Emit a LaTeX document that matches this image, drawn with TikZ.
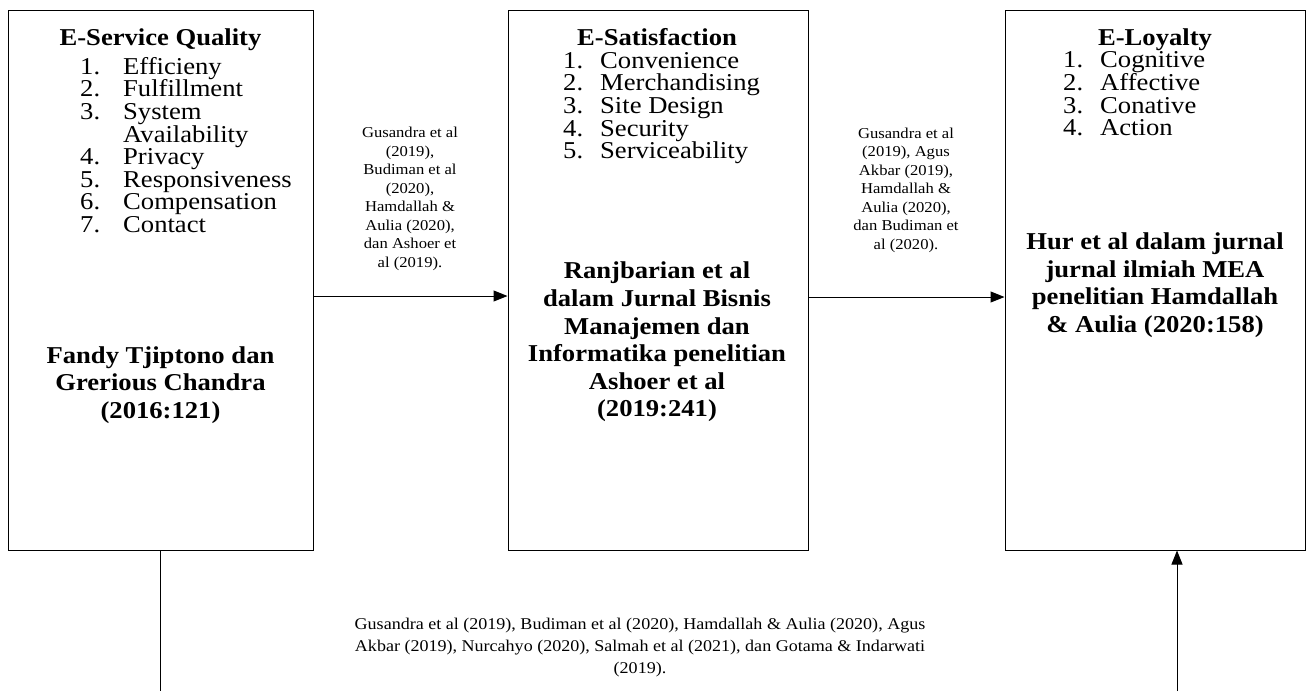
\documentclass[tikz,border=0pt]{standalone}
\usepackage{fontspec}
\setmainfont{Liberation Serif}[FakeStretch=1.1]
\usepackage{tikz}
\usetikzlibrary{arrows.meta,positioning}
\newcommand{\tightlines}{\lineskiplimit=-50pt\relax}

\begin{document}
\begin{tikzpicture}[
    x=1pt, y=-1pt,
    box/.style={draw, line width=1pt, minimum width=300pt, minimum height=540pt, inner sep=0pt},
    head/.style={font=\fontsize{24.2}{26}\selectfont\bfseries, anchor=base, inner sep=0pt},
    items/.style={font=\fontsize{24.2}{22.6}\selectfont\tightlines, align=left, anchor=west, inner sep=0pt},
    src/.style={font=\fontsize{24.2}{27.6}\selectfont\bfseries\tightlines, align=center, inner sep=0pt},
    cite/.style={font=\fontsize{15.1}{18.5}\selectfont, align=center, inner sep=0pt},
    arr/.style={-{Triangle[length=14pt,width=11pt]}, line width=1pt}
]
\useasboundingbox (0,0) rectangle (1313,691);

% the three variables
\node[box, minimum width=305pt] (esq) at (160.5,280) {};
\node[box, right=194pt of esq] (esat) {};
\node[box, right=196pt of esat] (eloy) {};

% E-Service Quality
\node[head] (esqhead) at (160.5,45) {E-Service Quality};
\node[items] (esqlist) at (80,145) {%
\makebox[43pt][l]{1.}Efficieny\\
\makebox[43pt][l]{2.}Fulfillment\\
\makebox[43pt][l]{3.}System\\
\makebox[43pt][l]{}Availability\\
\makebox[43pt][l]{4.}Privacy\\
\makebox[43pt][l]{5.}Responsiveness\\
\makebox[43pt][l]{6.}Compensation\\
\makebox[43pt][l]{7.}Contact};
\node[src] (esqsrc) at (160.5,385) {Fandy Tjiptono dan\\Grerious Chandra\\(2016:121)};

% E-Satisfaction
\node[head] (esathead) at (657,45) {E-Satisfaction};
\node[items] (esatlist) at (563,108) {%
\makebox[37pt][l]{1.}Convenience\\
\makebox[37pt][l]{2.}Merchandising\\
\makebox[37pt][l]{3.}Site Design\\
\makebox[37pt][l]{4.}Security\\
\makebox[37pt][l]{5.}Serviceability};
\node[src] (esatsrc) at (657,342) {Ranjbarian et al\\dalam Jurnal Bisnis\\Manajemen dan\\Informatika penelitian\\Ashoer et al\\(2019:241)};

% E-Loyalty
\node[head] (eloyhead) at (1155,45) {E-Loyalty};
\node[items] (eloylist) at (1063,94) {%
\makebox[37pt][l]{1.}Cognitive\\
\makebox[37pt][l]{2.}Affective\\
\makebox[37pt][l]{3.}Conative\\
\makebox[37pt][l]{4.}Action};
\node[src] (eloysrc) at (1155,285) {Hur et al dalam jurnal\\jurnal ilmiah MEA\\penelitian Hamdallah\\\& Aulia (2020:158)};

% references on the links
\node[cite] (cite1) at (410,199) {Gusandra et al\\(2019),\\Budiman et al\\(2020),\\Hamdallah \&\\Aulia (2020),\\dan Ashoer et\\al (2019).};
\node[cite] (cite2) at (906,190) {Gusandra et al\\(2019), Agus\\Akbar (2019),\\Hamdallah \&\\Aulia (2020),\\dan Budiman et\\al (2020).};
\node[cite, font=\fontsize{16.4}{22}\selectfont] (cite3) at (640,648) {Gusandra et al (2019), Budiman et al (2020), Hamdallah \& Aulia (2020), Agus\\Akbar (2019), Nurcahyo (2020), Salmah et al (2021), dan Gotama \& Indarwati\\(2019).};

% links
\draw[arr] ([yshift=-16pt]esq.east) -- ([yshift=-16pt]esat.west);
\draw[arr] ([yshift=-17pt]esat.east) -- ([yshift=-17pt]eloy.west);
\coordinate (lout) at (160.5,691);
\coordinate (rin) at (1177,691);
\draw[line width=1pt] (esq.south) -- (lout);
\draw[arr] (rin) -- (rin |- eloy.south);
\end{tikzpicture}
\end{document}
